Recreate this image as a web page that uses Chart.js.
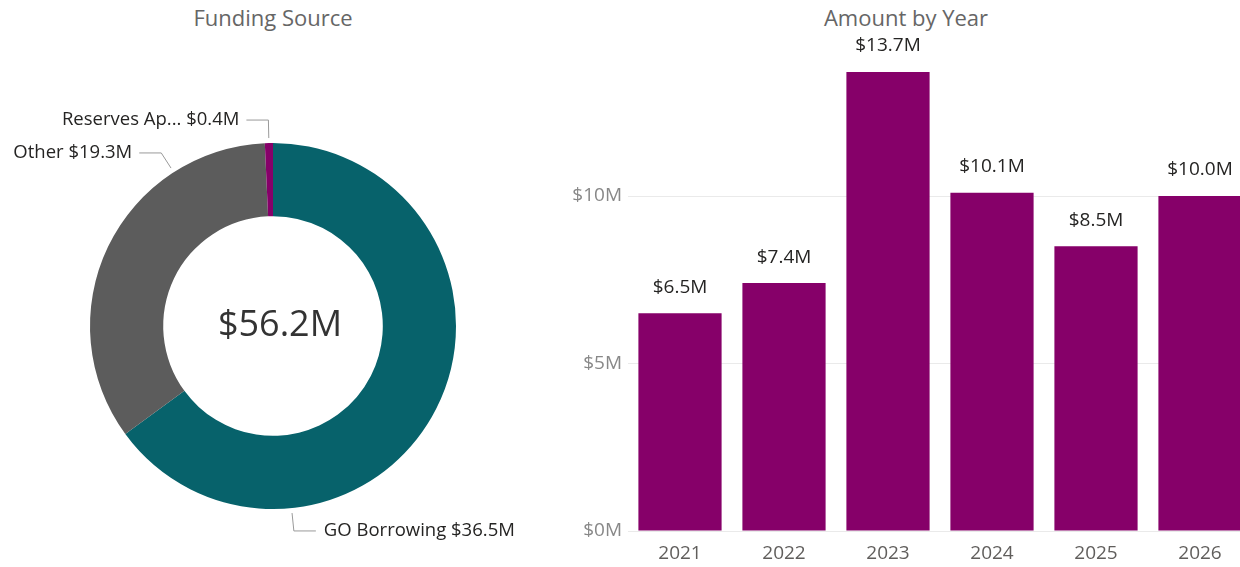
<!DOCTYPE html>
<html>
<head>
<meta charset="utf-8">
<script src="https://cdn.jsdelivr.net/npm/chart.js@4"></script>
<style>
  html, body { margin: 0; padding: 0; background: #fff; overflow: hidden; width: 1240px; height: 567px; }
  .title { position: absolute; top: 2px; font-family: "Open Sans", sans-serif; font-size: 22px; color: #666; text-align: center; }
  #donutWrap { position: absolute; left: 0; top: 0; width: 546px; height: 567px; }
  #barWrap { position: absolute; left: 560px; top: 0; width: 700px; height: 567px; }
</style>
</head>
<body>
<div class="title" style="left:0; width:546px;">Funding Source</div>
<div class="title" style="left:572px; width:668px;">Amount by Year</div>
<div id="donutWrap"><canvas id="donutChart"></canvas></div>
<div id="barWrap"><canvas id="barChart"></canvas></div>
<script>
const fundingLabels = ['GO Borrowing', 'Other', 'Reserves Ap...'];
const fundingValues = [36.5, 19.3, 0.4];
const fundingColors = ['#07626B', '#5C5C5C', '#860069'];
const fundingTotal = '$56.2M';

const years = ['2021', '2022', '2023', '2024', '2025', '2026'];
const yearAmounts = [6.5, 7.4, 13.7, 10.1, 8.5, 10.0];
const yTickValues = [0, 5, 10];

const FONT = '"Open Sans", sans-serif';

function money( v ) {
    return '$' + v.toFixed(1) + 'M';
}

// Center total and leader-line labels for the doughnut
const donutLabels = {
    id: 'donutLabels',
    afterDraw( chart ) {
        const ctx = chart.ctx;
        const arcs = chart.getDatasetMeta(0).data;
        const fracs = [0.745, 0.755, 0.5];
        ctx.save();
        const c = arcs[0];
        ctx.fillStyle = '#333';
        ctx.font = '36px ' + FONT;
        ctx.textAlign = 'center';
        ctx.textBaseline = 'middle';
        ctx.fillText(fundingTotal, c.x + 7, c.y);

        ctx.font = '18.5px ' + FONT;
        arcs.forEach(( arc, i ) => {
            const a = arc.startAngle + fracs[i] * (arc.endAngle - arc.startAngle);
            const r = arc.outerRadius;
            const dx = Math.cos(a), dy = Math.sin(a);
            const x0 = arc.x + (r + 5) * dx, y0 = arc.y + (r + 5) * dy;
            const x1 = arc.x + (r + 23) * dx, y1 = arc.y + (r + 23) * dy;
            const left = dx < 0;
            const x2 = left ? x1 - 22 : x1 + 22;
            ctx.strokeStyle = '#999';
            ctx.lineWidth = 1;
            ctx.beginPath();
            ctx.moveTo(x0, y0);
            ctx.lineTo(x1, y1);
            ctx.lineTo(x2, y1);
            ctx.stroke();
            ctx.fillStyle = '#252423';
            ctx.textAlign = left ? 'right' : 'left';
            ctx.fillText(fundingLabels[i] + ' ' + money(fundingValues[i]), left ? x2 - 7 : x2 + 8, y1);
        });
        ctx.restore();
    }
};

// Value labels above each bar
const barLabels = {
    id: 'barLabels',
    afterDatasetsDraw( chart ) {
        const ctx = chart.ctx;
        ctx.save();
        ctx.fillStyle = '#252423';
        ctx.font = '19px ' + FONT;
        ctx.textAlign = 'center';
        ctx.textBaseline = 'middle';
        chart.getDatasetMeta(0).data.forEach(( bar, i ) => {
            const y = Math.max(bar.y - 26, chart.chartArea.top - 16);
            ctx.fillText(money(yearAmounts[i]), bar.x, y);
        });
        ctx.restore();
    }
};

new Chart(document.getElementById('donutChart'), {
    type: 'doughnut',
    data: {
        labels: fundingLabels,
        datasets: [{
            data: fundingValues,
            backgroundColor: fundingColors,
            borderWidth: 0,
        }],
    },
    options: {
        responsive: true,
        maintainAspectRatio: false,
        animation: false,
        cutout: '60%',
        layout: { padding: { top: 143, bottom: 58 } },
        plugins: { legend: { display: false }, tooltip: { enabled: false } },
    },
    plugins: [donutLabels],
});

new Chart(document.getElementById('barChart'), {
    type: 'bar',
    data: {
        labels: years,
        datasets: [{
            data: yearAmounts,
            backgroundColor: '#860069',
            barPercentage: 0.8,
            categoryPercentage: 1,
        }],
    },
    options: {
        responsive: true,
        maintainAspectRatio: false,
        animation: false,
        layout: { padding: { top: 62, right: 8, left: 0, bottom: 0 } },
        plugins: { legend: { display: false }, tooltip: { enabled: false } },
        scales: {
            x: {
                grid: { display: false },
                border: { display: false },
                ticks: { color: '#605E5C', font: { family: FONT, size: 19 }, padding: 3 },
                afterFit( scale ) { scale.height = 36; },
            },
            y: {
                min: 0,
                max: 14,
                grid: { color: '#EAEAEA', drawTicks: false },
                border: { display: false },
                ticks: {
                    color: '#888',
                    font: { family: FONT, size: 19 },
                    padding: 6,
                    callback: v => '$' + v + 'M',
                },
                afterBuildTicks( scale ) {
                    scale.ticks = yTickValues.map(v => ({ value: v }));
                },
                afterFit( scale ) { scale.width = 68; },
            },
        },
    },
    plugins: [barLabels],
});
</script>
</body>
</html>
